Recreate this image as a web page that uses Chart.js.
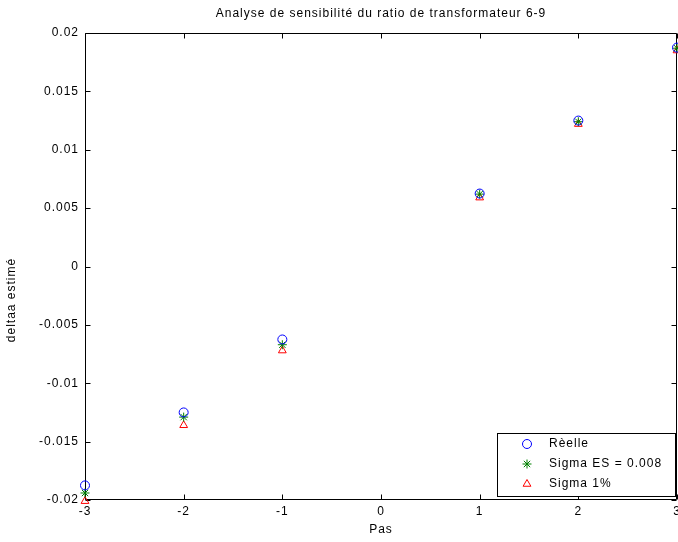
<!DOCTYPE html>
<html>
<head>
<meta charset="utf-8">
<script src="https://cdn.jsdelivr.net/npm/chart.js@4/dist/chart.umd.min.js"></script>
<style>
  html, body { margin: 0; padding: 0; background: #ffffff; }
  #wrap { width: 678px; height: 542px; }
</style>
</head>
<body>
<div id="wrap"><canvas id="c" width="678" height="542"></canvas></div>
<script>
// Steps of the transformer tap and the estimated delta for each method
const steps    = [-3, -2, -1, 1, 2, 3];
const reelle   = [-0.01875, -0.0125, -0.00625, 0.00625, 0.0125, 0.01875];
const sigmaES  = [-0.0194, -0.0129, -0.0067, 0.0062, 0.0124, 0.0187];
const sigma1   = [-0.0201, -0.0136, -0.0072, 0.0059, 0.0122, 0.0185];

const seriesLabels = ['Rèelle', 'Sigma ES = 0.008', 'Sigma 1%'];

const xTicks = [-3, -2, -1, 0, 1, 2, 3];
const yTicks = [-0.02, -0.015, -0.01, -0.005, 0, 0.005, 0.01, 0.015, 0.02];
const yTickLabels = ['-0.02', '-0.015', '-0.01', '-0.005', '0', '0.005', '0.01', '0.015', '0.02'];

const chartTitle = 'Analyse de sensibilité du ratio de transformateur 6-9';
const xTitle = 'Pas';
const yTitle = 'deltaa estimé';

const FONT = '"Liberation Sans", Arial, Helvetica, sans-serif';

// Markers may hang over the frame edge; keep the plot area fixed regardless
Chart.ScatterController.prototype.getMaxOverflow = function () { return 0; };

function toPoints(ys) {
  return steps.map((x, i) => ({ x: x, y: ys[i] }));
}

// Slightly spaced glyphs for every text on the canvas
const spacingPlugin = {
  id: 'spacing',
  beforeInit(chart) { chart.ctx.letterSpacing = '1px'; },
  beforeUpdate(chart) { chart.ctx.letterSpacing = '1px'; },
  beforeDraw(chart) { chart.ctx.letterSpacing = '1px'; }
};

// Box frame with inward ticks on all four sides, plus title and y label
const framePlugin = {
  id: 'frame',
  beforeDatasetsDraw(chart) {
    const { ctx, chartArea: a, scales } = chart;
    ctx.save();
    ctx.strokeStyle = '#000000';
    ctx.lineWidth = 1;
    const L = Math.round(a.left) + 0.5, R = Math.round(a.right) - 0.5;
    const T = Math.round(a.top) + 0.5, B = Math.round(a.bottom) - 0.5;
    ctx.beginPath();
    ctx.rect(L, T, R - L, B - T);
    const tl = 5;
    xTicks.forEach(v => {
      const px = Math.round(scales.x.getPixelForValue(v)) + 0.5;
      ctx.moveTo(px, B); ctx.lineTo(px, B - tl);
      ctx.moveTo(px, T); ctx.lineTo(px, T + tl);
    });
    yTicks.forEach(v => {
      const py = Math.round(scales.y.getPixelForValue(v)) + 0.5;
      ctx.moveTo(L, py); ctx.lineTo(L + tl, py);
      ctx.moveTo(R, py); ctx.lineTo(R - tl, py);
    });
    ctx.stroke();

    ctx.fillStyle = '#000000';
    ctx.font = '12px ' + FONT;
    ctx.textAlign = 'center';
    ctx.textBaseline = 'middle';
    ctx.fillText(chartTitle, (a.left + a.right) / 2, 14);

    ctx.translate(12, 300);
    ctx.rotate(-Math.PI / 2);
    ctx.fillText(yTitle, 0, 0);
    ctx.restore();
  }
};

// Legend box in the lower right corner of the plot
const legendPlugin = {
  id: 'boxLegend',
  afterDraw(chart) {
    const { ctx } = chart;
    const x0 = 497, y0 = 433, w = 178, h = 63;
    ctx.save();
    ctx.fillStyle = '#ffffff';
    ctx.fillRect(x0, y0, w, h);
    ctx.strokeStyle = '#000000';
    ctx.lineWidth = 1;
    ctx.strokeRect(x0 + 0.5, y0 + 0.5, w, h);
    ctx.font = '12px ' + FONT;
    ctx.textAlign = 'left';
    ctx.textBaseline = 'middle';
    chart.data.datasets.forEach((ds, i) => {
      const cy = y0 + 11 + i * 20;
      ctx.strokeStyle = ds.borderColor;
      ctx.fillStyle = ds.backgroundColor;
      ctx.lineWidth = ds.borderWidth;
      Chart.helpers.drawPoint(ctx, {
        pointStyle: ds.pointStyle,
        radius: ds.pointRadius,
        rotation: 0,
        borderWidth: ds.borderWidth
      }, 527, cy);
      ctx.fillStyle = '#000000';
      ctx.fillText(ds.label, 549, cy);
    });
    ctx.restore();
  }
};

new Chart(document.getElementById('c'), {
  type: 'scatter',
  data: {
    datasets: [
      {
        label: seriesLabels[0],
        data: toPoints(reelle),
        pointStyle: 'circle',
        pointRadius: 4.5,
        borderColor: '#0000ff',
        backgroundColor: 'rgba(0,0,0,0)',
        borderWidth: 1,
        clip: false
      },
      {
        label: seriesLabels[1],
        data: toPoints(sigmaES),
        pointStyle: 'star',
        pointRadius: 4.5,
        borderColor: '#008000',
        backgroundColor: 'rgba(0,0,0,0)',
        borderWidth: 1,
        clip: false
      },
      {
        label: seriesLabels[2],
        data: toPoints(sigma1),
        pointStyle: 'triangle',
        pointRadius: 4.5,
        borderColor: '#ff0000',
        backgroundColor: 'rgba(0,0,0,0)',
        borderWidth: 1,
        clip: false
      }
    ]
  },
  options: {
    responsive: false,
    animation: false,
    devicePixelRatio: 1,
    layout: { padding: { left: 0, top: 33, right: 1, bottom: 0 } },
    plugins: {
      legend: { display: false },
      tooltip: { enabled: false },
      title: { display: false }
    },
    scales: {
      x: {
        type: 'linear',
        min: -3,
        max: 3,
        afterBuildTicks: s => { s.ticks = xTicks.map(v => ({ value: v })); },
        afterFit: s => { s.height = 42; s.paddingLeft = 0; s.paddingRight = 0; },
        grid: { display: false, drawTicks: false },
        border: { display: false },
        ticks: {
          color: '#000000',
          font: { family: FONT, size: 12 },
          padding: 4,
          maxRotation: 0,
          callback: v => String(v)
        },
        title: {
          display: true,
          text: xTitle,
          color: '#000000',
          font: { family: FONT, size: 12 },
          padding: { top: 0, bottom: 5 }
        }
      },
      y: {
        type: 'linear',
        min: -0.02,
        max: 0.02,
        afterBuildTicks: s => { s.ticks = yTicks.map(v => ({ value: v })); },
        afterFit: s => { s.width = 85; s.paddingTop = 0; s.paddingBottom = 0; },
        grid: { display: false, drawTicks: false },
        border: { display: false },
        ticks: {
          color: '#000000',
          font: { family: FONT, size: 12 },
          padding: 6,
          callback: v => {
            const i = yTicks.findIndex(t => Math.abs(t - v) < 1e-9);
            return i >= 0 ? yTickLabels[i] : '';
          }
        },
        title: { display: false }
      }
    }
  },
  plugins: [spacingPlugin, framePlugin, legendPlugin]
});
</script>
</body>
</html>
